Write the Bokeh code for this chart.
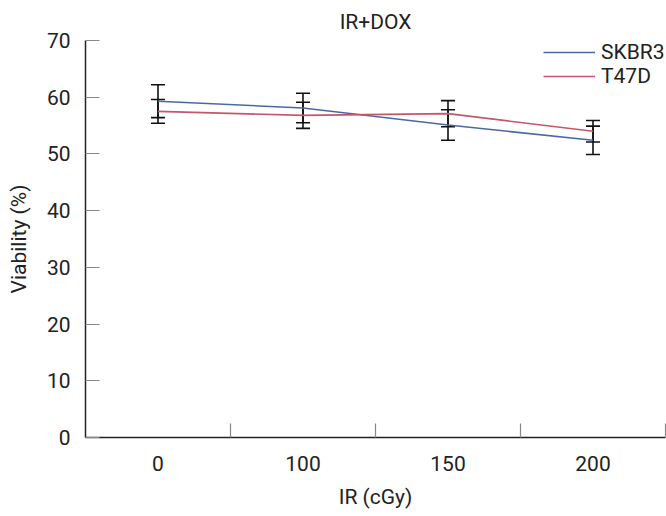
from bokeh.plotting import figure
from bokeh.models import (FixedTicker, Whisker, ColumnDataSource, TeeHead,
                          Legend, LegendItem, Range1d)
from bokeh.embed import file_html
from bokeh.resources import INLINE

# ---- data ----
doses = ["0", "100", "150", "200"]
skbr3_mean = [59.3, 58.1, 55.1, 52.4]
skbr3_err = [2.9, 2.6, 2.7, 2.5]
t47d_mean = [57.5, 56.8, 57.1, 54.0]
t47d_err = [2.1, 2.3, 2.3, 1.9]
y_ticks = [0, 10, 20, 30, 40, 50, 60, 70]

FONT = "Roboto"
FS = "21px"
BLUE = "#4a69a3"
RED = "#c4576a"

x = [i + 0.5 for i in range(len(doses))]
bounds = [i + 1 for i in range(len(doses))]

p = figure(width=666, height=516, output_backend="svg", toolbar_location=None,
           x_range=Range1d(0, len(doses)), y_range=Range1d(y_ticks[0], y_ticks[-1]),
           min_border_left=85, min_border_right=1, min_border_top=40,
           min_border_bottom=79, title="IR+DOX")

p.title.text_font = FONT
p.title.text_font_size = FS
p.title.text_font_style = "normal"
p.title.align = "center"
p.title.standoff = 14
p.title.text_color = "#222222"

p.xgrid.visible = False
p.ygrid.visible = False
p.outline_line_color = None

src_s = ColumnDataSource(dict(x=x, y=skbr3_mean,
                              upper=[m + e for m, e in zip(skbr3_mean, skbr3_err)],
                              lower=[m - e for m, e in zip(skbr3_mean, skbr3_err)]))
src_t = ColumnDataSource(dict(x=x, y=t47d_mean,
                              upper=[m + e for m, e in zip(t47d_mean, t47d_err)],
                              lower=[m - e for m, e in zip(t47d_mean, t47d_err)]))

r1 = p.line("x", "y", source=src_s, line_color=BLUE, line_width=1.6)
r2 = p.line("x", "y", source=src_t, line_color=RED, line_width=1.6)

for src in (src_s, src_t):
    w = Whisker(base="x", upper="upper", lower="lower", source=src,
                line_color="#111111", line_width=1.6,
                upper_head=TeeHead(size=14, line_color="#111111", line_width=1.6),
                lower_head=TeeHead(size=14, line_color="#111111", line_width=1.6))
    p.add_layout(w)

# x axis
xa = p.xaxis[0]
xa.ticker = FixedTicker(ticks=x, minor_ticks=bounds)
xa.major_label_overrides = {xi: d for xi, d in zip(x, doses)}
xa.major_tick_in = 0
xa.major_tick_out = 0
xa.minor_tick_in = 14
xa.minor_tick_out = 0
xa.minor_tick_line_color = "#888888"
xa.minor_tick_line_width = 1.2
xa.axis_line_color = "#222222"
xa.axis_line_width = 1.5
xa.major_label_text_font = FONT
xa.major_label_text_font_size = FS
xa.major_label_text_color = "#222222"
xa.major_label_standoff = 18
xa.axis_label = "IR (cGy)"
xa.axis_label_text_font = FONT
xa.axis_label_text_font_size = FS
xa.axis_label_text_font_style = "normal"
xa.axis_label_text_color = "#222222"
xa.axis_label_standoff = 11

# y axis
ya = p.yaxis[0]
ya.ticker = FixedTicker(ticks=y_ticks)
ya.major_tick_in = 14
ya.major_tick_out = 0
ya.major_tick_line_color = "#888888"
ya.major_tick_line_width = 1.2
ya.minor_tick_in = 0
ya.minor_tick_out = 0
ya.axis_line_color = "#222222"
ya.axis_line_width = 1.5
ya.major_label_text_font = FONT
ya.major_label_text_font_size = FS
ya.major_label_text_color = "#222222"
ya.major_label_standoff = 15
ya.axis_label = "Viability (%)"
ya.axis_label_text_font = FONT
ya.axis_label_text_font_size = FS
ya.axis_label_text_font_style = "normal"
ya.axis_label_text_color = "#222222"
ya.axis_label_standoff = 13

legend = Legend(items=[LegendItem(label="SKBR3", renderers=[r1]),
                       LegendItem(label="T47D", renderers=[r2])],
                location=(458, 349))
legend.border_line_color = None
legend.background_fill_alpha = 0
legend.glyph_width = 52
legend.label_standoff = 6
legend.padding = 0
legend.margin = 0
legend.spacing = -8
legend.label_text_font = FONT
legend.label_text_font_size = FS
legend.label_text_color = "#222222"
p.add_layout(legend)

open("out.html", "w").write(file_html(p, INLINE))
